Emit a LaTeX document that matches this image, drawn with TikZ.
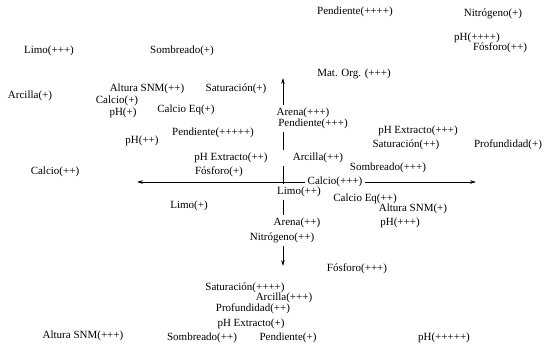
\documentclass[tikz,border=0pt]{standalone}
\usepackage{fontspec}
\setmainfont{Liberation Serif}
\usepackage{tikz}
\usetikzlibrary{arrows.meta, calc}

\begin{document}
\begin{tikzpicture}[
  x=1pt, y=-1pt,
  lbl/.style={font=\fontsize{11}{12}\selectfont, inner sep=2.5pt},
  axis/.style={line width=0.8pt, arrows={-Stealth[length=6pt, width=3.6pt]}},
  seg/.style={line width=0.8pt}
]
  \useasboundingbox (0,0) rectangle (547,351);
  % axes ends
  \coordinate (o) at (283,182);
  \coordinate (up) at (283,78);
  \coordinate (down) at (283,266);
  \coordinate (west) at (137,182);
  \coordinate (east) at (476,182);

  % upper half
  \node[lbl] (pend4) at (355, 12) {Pendiente(++++)};
  \node[lbl] (nitro1) at (493, 14) {Nitrógeno(+)};
  \node[lbl] (ph4) at (477, 38) {pH(++++)};
  \node[lbl] (fos2) at (500, 48) {Fósforo(++)};
  \node[lbl] (limo3) at (49, 51) {Limo(+++)};
  \node[lbl] (somb1) at (182, 51) {Sombreado(+)};
  \node[lbl] (matorg) at (354, 74) {Mat. Org. (+++)};
  \node[lbl] (alt2) at (147, 89) {Altura SNM(++)};
  \node[lbl] (sat1) at (236, 89) {Saturación(+)};
  \node[lbl] (arc1) at (30, 96) {Arcilla(+)};
  \node[lbl] (calc1) at (117, 101) {Calcio(+)};
  \node[lbl] (calceq1) at (186, 110) {Calcio Eq(+)};
  \node[lbl] (ph1) at (123, 113) {pH(+)};
  \node[lbl] (arena3) at (303, 113) {Arena(+++)};
  \node[lbl] (pend3) at (313, 124) {Pendiente(+++)};
  \node[lbl] (pend5) at (213, 133) {Pendiente(+++++)};
  \node[lbl] (phx3) at (418, 131) {pH Extracto(+++)};
  \node[lbl] (ph2) at (142, 141) {pH(++)};
  \node[lbl] (sat2) at (406, 145) {Saturación(++)};
  \node[lbl] (prof1) at (508, 145) {Profundidad(+)};
  \node[lbl] (phx2) at (231, 158) {pH Extracto(++)};
  \node[lbl] (arc2) at (318, 158) {Arcilla(++)};
  \node[lbl] (somb3) at (388, 168) {Sombreado(+++)};
  \node[lbl] (calc2) at (55, 172) {Calcio(++)};
  \node[lbl] (fos1) at (219, 172) {Fósforo(+)};
  \node[lbl] (calc3) at (335, 182) {Calcio(+++)};

  % lower half
  \node[lbl] (limo2) at (299, 192) {Limo(++)};
  \node[lbl] (calceq2) at (365, 199) {Calcio Eq(++)};
  \node[lbl] (limo1) at (189, 206) {Limo(+)};
  \node[lbl] (alt1) at (413, 209) {Altura SNM(+)};
  \node[lbl] (arena2) at (297, 223) {Arena(++)};
  \node[lbl] (ph3) at (400, 223) {pH(+++)};
  \node[lbl] (nitro2) at (282, 238) {Nitrógeno(++)};
  \node[lbl] (fos3) at (357, 269) {Fósforo(+++)};
  \node[lbl] (sat4) at (245, 288) {Saturación(++++)};
  \node[lbl] (arc3) at (284, 298) {Arcilla(+++)};
  \node[lbl] (prof2) at (253, 309) {Profundidad(++)};
  \node[lbl] (phx1) at (251, 324) {pH Extracto(+)};
  \node[lbl] (alt3) at (83, 336) {Altura SNM(+++)};
  \node[lbl] (somb2) at (202, 338) {Sombreado(++)};
  \node[lbl] (pend1) at (288, 338) {Pendiente(+)};
  \node[lbl] (ph5) at (444, 338) {pH(+++++)};

  % vertical axis, broken by the labels
  \draw[axis] (up |- arena3.north) -- (up);
  \draw[seg] (o |- pend3.south) -- (o |- arc2.north);
  \draw[seg] (o |- arc2.south) -- (o |- limo2.north);
  \draw[seg] (o |- limo2.south) -- (o |- arena2.north);
  \draw[axis] (o |- nitro2.south) -- (down);
  % horizontal axis
  \draw[axis] (calc3.west) -- (west);
  \draw[axis] (calc3.east) -- (east);
\end{tikzpicture}
\end{document}
